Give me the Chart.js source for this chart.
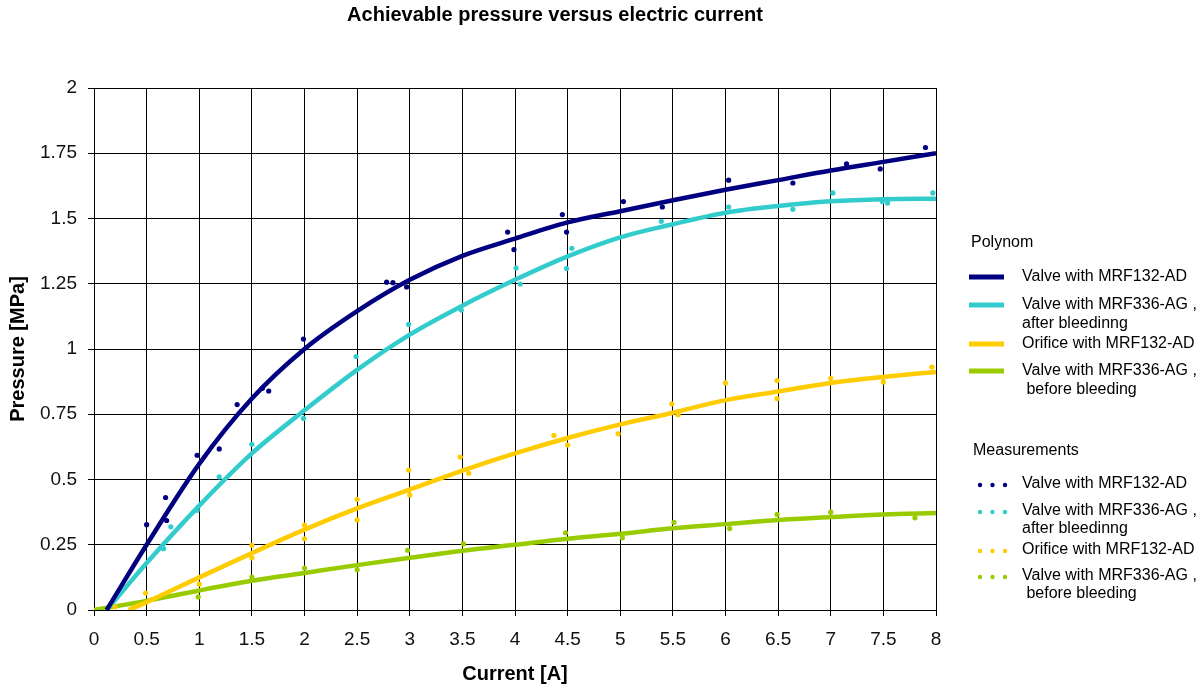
<!DOCTYPE html>
<html>
  <head>
    <title>Achievable pressure versus electric current</title>
    <script src="https://cdn.jsdelivr.net/npm/chart.js"></script>
    <style>
      body { margin: 0; background: #fff; }
      #wrap { width: 1203px; height: 686px; position: relative; }
    </style>
  </head>
  <body>
    <div id="wrap"><canvas id="pressureChart"></canvas></div>

    <script>
      var chartTitle = "Achievable pressure versus electric current";

      // Series names (legend text, one entry per line)
      var seriesNames = [
        ["Valve with MRF132-AD"],
        ["Valve with MRF336-AG ,", "after bleedinng"],
        ["Orifice with MRF132-AD"],
        ["Valve with MRF336-AG ,", " before bleeding"],
      ];
      var seriesColors = ["#000080", "#33cccc", "#ffcc00", "#99cc00"];

      // Polynomial fit curves: first point where each curve leaves 0, then every 0.5 A
      var fitStart = [0.12, 0.12, 0.33, 0];
      var fitCurrent = [0.5, 1, 1.5, 2, 2.5, 3, 3.5, 4, 4.5, 5, 5.5, 6, 6.5, 7, 7.5, 8];
      var fitValve132 = [0.25, 0.56, 0.81, 1.0, 1.145, 1.265, 1.357, 1.423, 1.485, 1.528, 1.57, 1.61, 1.647, 1.684, 1.717, 1.75];
      var fitValve336After = [0.18, 0.4, 0.6, 0.765, 0.92, 1.055, 1.166, 1.265, 1.355, 1.428, 1.478, 1.522, 1.548, 1.566, 1.574, 1.576];
      var fitOrifice132 = [0.03, 0.125, 0.218, 0.308, 0.389, 0.461, 0.534, 0.6, 0.659, 0.711, 0.756, 0.804, 0.837, 0.87, 0.893, 0.912];
      var fitValve336Before = [0.035, 0.075, 0.112, 0.142, 0.172, 0.2, 0.227, 0.25, 0.273, 0.292, 0.313, 0.329, 0.345, 0.356, 0.366, 0.372];

      // Measurements: current [A] / pressure [MPa]
      var measCurrent132 = [0.5, 0.68, 0.69, 0.98, 1.19, 1.36, 1.6, 1.66, 1.99, 2.78, 2.84, 2.97, 3.93, 3.99, 4.45, 4.49, 5.03, 5.4, 6.03, 6.64, 7.15, 7.47, 7.9];
      var measPressure132 = [0.327, 0.431, 0.343, 0.593, 0.617, 0.787, 0.85, 0.839, 1.038, 1.256, 1.254, 1.238, 1.448, 1.381, 1.515, 1.448, 1.565, 1.544, 1.647, 1.636, 1.709, 1.69, 1.772];

      var measCurrent336After = [0.66, 0.73, 0.98, 1.19, 1.5, 1.99, 2.49, 2.99, 3.49, 4.01, 4.05, 4.49, 4.54, 5.39, 6.03, 6.64, 7.02, 7.49, 7.54, 7.97];
      var measPressure336After = [0.235, 0.319, 0.382, 0.51, 0.635, 0.734, 0.971, 1.094, 1.149, 1.31, 1.249, 1.308, 1.386, 1.489, 1.544, 1.535, 1.598, 1.565, 1.559, 1.598];

      var measCurrentOrifice = [0.2, 0.49, 1.0, 1.5, 1.5, 2.0, 2.0, 2.5, 2.5, 2.99, 3.0, 3.48, 3.56, 4.37, 4.5, 4.98, 5.49, 5.55, 6.0, 6.49, 6.49, 7.0, 7.5, 7.96];
      var measPressureOrifice = [0.012, 0.065, 0.099, 0.248, 0.2, 0.325, 0.273, 0.424, 0.345, 0.536, 0.441, 0.586, 0.524, 0.669, 0.632, 0.675, 0.79, 0.748, 0.87, 0.879, 0.81, 0.888, 0.874, 0.931];

      var measCurrent336Before = [0.99, 1.5, 2.0, 2.5, 2.98, 3.51, 4.48, 5.02, 5.51, 6.04, 6.49, 7.0, 7.8];
      var measPressure336Before = [0.05, 0.126, 0.161, 0.154, 0.229, 0.253, 0.296, 0.277, 0.336, 0.312, 0.366, 0.375, 0.353];

      var fitValues = [fitValve132, fitValve336After, fitOrifice132, fitValve336Before];
      var measCurrents = [measCurrent132, measCurrent336After, measCurrentOrifice, measCurrent336Before];
      var measPressures = [measPressure132, measPressure336After, measPressureOrifice, measPressure336Before];

      function toPoints(xs, ys) {
        return xs.map(function (x, i) {
          return { x: x, y: ys[i] };
        });
      }

      var datasets = [];
      // measurement dots first so they sit on top of the curves
      for (var i = 0; i < 4; i++) {
        datasets.push({
          label: "Measurements " + (i + 1),
          data: toPoints(measCurrents[i], measPressures[i]),
          showLine: false,
          pointRadius: 2.6,
          pointBorderWidth: 0,
          pointBackgroundColor: seriesColors[i],
          pointBorderColor: seriesColors[i],
        });
      }
      for (var j = 0; j < 4; j++) {
        datasets.push({
          label: "Polynom " + (j + 1),
          data: toPoints([fitStart[j]].concat(fitCurrent), [0].concat(fitValues[j])),
          showLine: true,
          borderColor: seriesColors[j],
          borderWidth: 4.5,
          pointRadius: 0,
          cubicInterpolationMode: "monotone",
        });
      }

      var FONT = "'Liberation Sans', Arial, sans-serif";

      function plainNumber(value) {
        return String(Math.round(value * 100) / 100);
      }

      // Title over the whole page plus the legend on the right,
      // in two groups: fitted curves and measurements
      var sideLegend = {
        id: "sideLegend",
        afterDraw: function (chart) {
          var ctx = chart.ctx;
          ctx.save();
          ctx.fillStyle = "#000";
          ctx.textBaseline = "middle";
          ctx.textAlign = "center";
          ctx.font = "bold 20px " + FONT;
          ctx.fillText(chartTitle, 555, 15);

          ctx.font = "16px " + FONT;
          ctx.textAlign = "left";
          ctx.fillText("Polynom", 971, 243);
          var lineRows = [277, 305, 344, 371];
          lineRows.forEach(function (y, k) {
            ctx.fillStyle = seriesColors[k];
            ctx.fillRect(969, y - 2.5, 35, 5);
            ctx.fillStyle = "#000";
            seriesNames[k].forEach(function (t, n) {
              ctx.fillText(t, 1022, y + n * 19);
            });
          });

          ctx.fillText("Measurements", 973, 451);
          var dotRows = [484, 511, 550, 576];
          dotRows.forEach(function (y, k) {
            ctx.fillStyle = seriesColors[k];
            [980, 992.5, 1005].forEach(function (x) {
              ctx.beginPath();
              ctx.arc(x, y + 1, 2.2, 0, Math.PI * 2);
              ctx.fill();
            });
            ctx.fillStyle = "#000";
            seriesNames[k].forEach(function (t, n) {
              ctx.fillText(t, 1022, y + n * 18);
            });
          });
          ctx.restore();
        },
      };

      new Chart(document.getElementById("pressureChart"), {
        type: "scatter",
        data: { datasets: datasets },
        options: {
          responsive: true,
          maintainAspectRatio: false,
          animation: false,
          layout: { padding: { left: 0, right: 267, top: 88, bottom: 0 } },
          plugins: {
            legend: { display: false },
            tooltip: { enabled: false },
            title: { display: false },
          },
          scales: {
            x: {
              type: "linear",
              min: 0,
              max: 8,
              afterFit: function (scale) {
                scale.height = 76;
              },
              ticks: {
                stepSize: 0.5,
                color: "#111",
                padding: 12,
                maxRotation: 0,
                font: { family: FONT, size: 19 },
                callback: plainNumber,
              },
              grid: { color: "#000", lineWidth: 1, tickLength: 6 },
              border: { color: "#000", width: 1 },
              title: {
                display: true,
                text: "Current [A]",
                color: "#000",
                font: { family: FONT, size: 20, weight: "bold" },
                padding: { top: 0, bottom: 0 },
              },
            },
            y: {
              type: "linear",
              min: 0,
              max: 2,
              afterFit: function (scale) {
                scale.width = 94;
              },
              ticks: {
                stepSize: 0.25,
                color: "#111",
                padding: 11,
                font: { family: FONT, size: 19 },
                callback: plainNumber,
              },
              grid: { color: "#000", lineWidth: 1, tickLength: 6 },
              border: { color: "#000", width: 1 },
              title: {
                display: true,
                text: "Pressure [MPa]",
                color: "#000",
                font: { family: FONT, size: 20, weight: "bold" },
                padding: { top: 6, bottom: 0 },
              },
            },
          },
        },
        plugins: [sideLegend],
      });
    </script>
  </body>
</html>
